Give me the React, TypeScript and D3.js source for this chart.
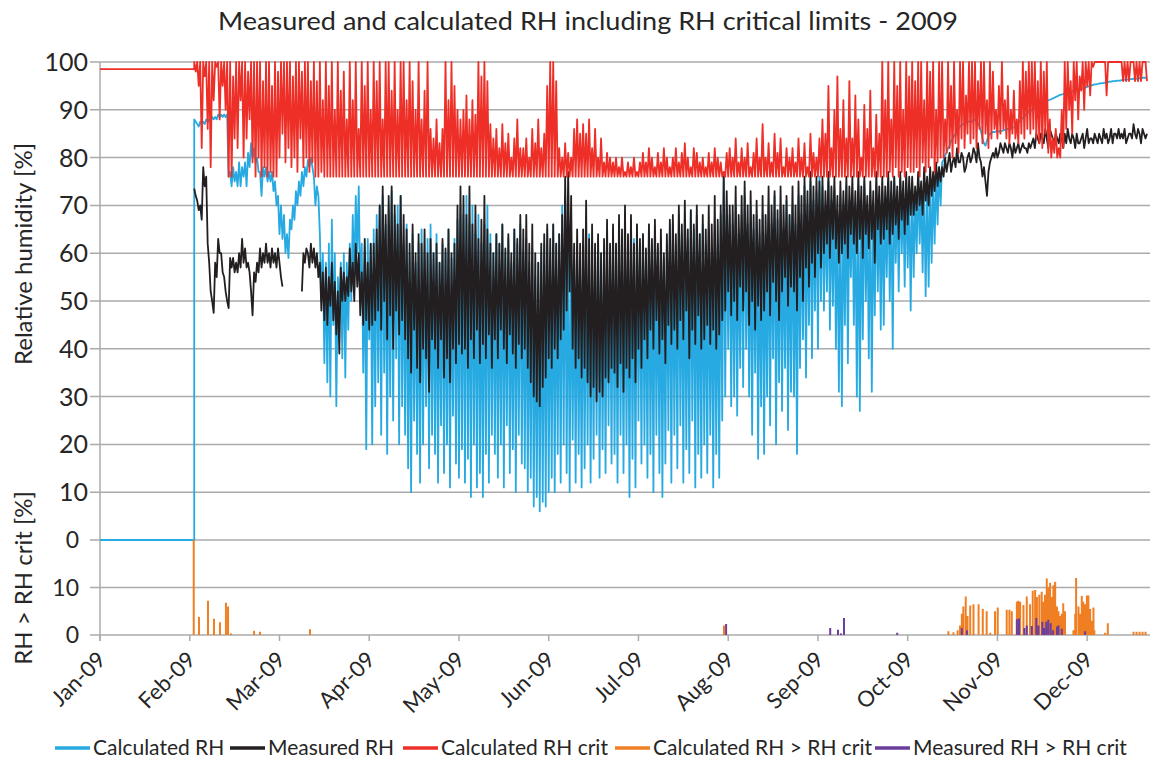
import React from 'react';
import * as d3 from 'd3';

// ---------- DATA ----------
const MONTH_LABELS = ['Jan-09','Feb-09','Mar-09','Apr-09','May-09','Jun-09','Jul-09','Aug-09','Sep-09','Oct-09','Nov-09','Dec-09'];
const DAYS_PER_TICK = 30;
const X_END_DAY = 351;
const RH_TICKS = [10,20,30,40,50,60,70,80,90,100];
const EXCESS_TICKS = [{ v: 20, label: '0' }, { v: 10, label: '10' }, { v: 0, label: '0' }];
const DATA_START_DAY = 31.5;
const CALC_RH_BEFORE = 0;
const CRIT_BEFORE = 98.5;
const CALC_EXCESS_FIRST = 20;

// two readings per day (first half / second half of day), from Feb 1
const CALC_RH: [number, number][] = [
[88,87.5],[87,86.5],[87.5,87],[87.5,87],[88,87.5],[88,87.5],[88.5,88],[88.5,88],[89,88.5],[89,88.5],
[89,88.5],[89,76],[77,74],[78,75],[77,74],[79,74],[78,76],[79,74],[81,78],[83,80],
[82,79],[80,77],[77,72],[78,76],[78,75],[77,75],[77,73],[75,70],[72,64],[70,63],
[68,60],[64,59],[67,65],[70,67],[73,70],[75,72],[77,74],[78,76],[79.5,78],[80,78],
[76,70],[74,72],[64,50],[60,37],[58,33],[62,30],[67,45],[60,28],[55,48],[58,38],
[60,34],[58,44],[62,50],[68,55],[72,60],[74,52],[62,35],[60,19],[63,42],[62,20],
[65,28],[68,33],[70,22],[72,35],[66,18],[70,30],[73,25],[68,38],[70,20],[72,28],
[62,22],[66,15],[60,10],[64,25],[58,18],[62,12],[65,20],[60,28],[63,15],[66,22],
[60,18],[64,12],[58,24],[62,14],[60,20],[65,11],[59,26],[63,16],[67,13],[70,19],
[68,12],[72,17],[66,9],[70,20],[64,11],[68,14],[62,9],[66,18],[70,12],[64,22],
[60,18],[64,13],[62,20],[66,11],[60,24],[63,14],[58,19],[65,10],[62,22],[66,16],
[60,15],[63,10],[58,13],[61,7],[55,9],[58,6],[60,8],[62,7],[65,10],[60,13],
[66,10],[62,18],[64,12],[70,20],[72,14],[68,10],[62,21],[58,12],[60,18],[55,11],
[62,15],[60,20],[64,12],[58,17],[61,22],[63,13],[60,19],[58,14],[62,24],[60,16],
[65,18],[62,12],[66,22],[60,14],[64,20],[61,9],[67,17],[63,11],[66,25],[62,16],
[64,20],[60,13],[66,18],[62,10],[65,22],[61,14],[63,9],[59,16],[62,23],[66,12],
[66,22],[62,15],[68,24],[64,12],[67,19],[63,14],[69,25],[65,11],[68,18],[64,13],
[66,20],[62,14],[65,22],[60,11],[64,18],[61,13],[68,25],[77,30],[70,40],[68,28],
[66,30],[70,26],[64,36],[68,32],[72,40],[66,30],[70,22],[65,35],[68,17],[64,28],
[68,18],[64,30],[70,24],[66,38],[72,20],[67,33],[70,27],[65,36],[71,23],[68,31],
[70,30],[66,18],[72,36],[68,42],[74,34],[70,45],[75,38],[71,48],[73,40],[76,50],
[74,48],[70,52],[75,44],[71,49],[73,40],[68,31],[72,28],[70,45],[74,37],[71,55],
[72,45],[70,30],[74,27],[71,42],[75,50],[69,38],[73,31],[70,47],[74,52],[71,44],
[73,45],[71,55],[75,50],[72,40],[76,58],[73,52],[75,60],[72,53],[76,57],[74,48],
[74,55],[72,60],[76,62],[73,56],[75,51],[74,53],[76,58],[75,62],[77,66],[78,70],
[79,79.5],[80.5,81],[82,82.5],[83.5,84],[84.5,85],[85.5,86],[86.5,86.8],[87,87.2],[87.4,87.5],[87.6,87.5],
[87.5,87.8],[88,87.6],[87.2,86.5],[85.5,84],[83,82.5],[83.5,84.5],[85,85.2],[85.4,85.3],[85.5,85.6],[85.4,85.6],
[85.6,85.7],[85.8,85.9],[86,86],[86.1,86.2],[86.3,86.5],[86.8,87.2],[87.6,88],[88.3,88.6],[89,89.3],[89.6,89.8],
[89.9,90.1],[90.3,90.5],[90.8,91],[91.2,91.4],[91.6,91.7],[91.8,92],[92.1,92.2],[92.4,92.5],[92.7,92.8],[93,93.1],
[93.2,93.3],[93.4,93.5],[93.6,93.7],[93.8,93.9],[94,94.1],[94.2,94.3],[94.4,94.5],[94.5,94.6],[94.7,94.8],[94.9,95],
[95.1,95.2],[95.3,95.3],[95.4,95.5],[95.5,95.6],[95.6,95.7],[95.8,95.8],[95.9,95.9],[96,96],[96,96.1],[96.1,96.1],
[96.2,96.2],[96.3,96.3],[96.3,96.4],[96.4,96.4],[96.5,96.5],[96.5,96.6],[96.6,96.6],[96.7,96.7],[96.7,96.8]
];

const MEAS_RH: ([number, number] | null)[] = [
[73.5,72],[71,69],[70,67],[78,74],[76,62],[58,52],[50,47.5],[58,55],[63,60],[60,56],
[55,52],[50,48.5],[59,57],[59,56],[58,56],[60,57],[63,58],[61,57],[58,56],[52,47],
[56,54],[58,56],[61,57],[60,58],[62,58],[60,57],[61,58],[60,57],[61,58],[55,53],
null,null,null,null,null,null,[52,60],[58,61],[60,57],[62,58],
[61,57],[60,55],[58,48],[56,46],[57,45],[55,49],[58,46],[54,43],[52,39],[57,50],
[56,50],[55,51],[61,52],[58,50],[62,53],[60,47],[56,45],[63,46],[58,44],[62,45],
[62,46],[65,48],[70,44],[74,50],[68,42],[72,47],[74,40],[70,48],[66,43],[72,46],
[68,42],[65,38],[62,35],[66,44],[60,36],[64,33],[62,40],[65,38],[60,31],[63,42],
[60,40],[62,36],[58,42],[63,34],[61,38],[65,33],[60,40],[62,37],[70,41],[74,39],
[72,40],[68,36],[74,42],[66,38],[70,44],[63,37],[67,41],[72,38],[65,43],[62,36],
[60,42],[64,38],[62,44],[66,40],[61,37],[64,43],[60,39],[65,36],[63,41],[68,38],
[65,40],[68,36],[62,33],[66,30],[60,29],[58,28],[62,32],[64,34],[66,38],[63,36],
[66,40],[62,38],[64,42],[68,44],[76,48],[77,52],[72,40],[62,36],[65,38],[62,34],
[65,36],[71,33],[63,30],[66,32],[62,29],[64,31],[60,30],[63,34],[67,33],[62,36],
[66,35],[62,32],[68,37],[65,31],[70,36],[64,34],[68,38],[62,33],[66,40],[63,36],
[64,42],[61,38],[66,44],[63,40],[67,46],[62,39],[65,42],[60,37],[64,45],[67,41],
[68,44],[64,40],[70,46],[66,42],[71,48],[65,38],[69,44],[66,41],[70,47],[64,40],
[68,42],[65,45],[70,41],[66,44],[72,40],[67,43],[70,46],[76,48],[73,52],[70,47],
[70,50],[74,46],[68,53],[72,48],[75,52],[70,45],[73,50],[68,44],[71,49],[67,46],
[72,48],[68,52],[74,47],[70,54],[73,50],[69,46],[74,52],[70,55],[72,49],[68,53],
[74,52],[70,48],[75,55],[72,50],[76,57],[73,53],[77,58],[74,55],[76,60],[75,57],
[76,60],[73,62],[77,59],[74,63],[76,61],[72,58],[75,60],[73,62],[76,59],[74,64],
[76,62],[73,60],[77,63],[74,59],[76,64],[72,61],[75,63],[73,58],[77,65],[74,62],
[76,63],[74,65],[77,62],[75,64],[76,66],[74,63],[77,67],[75,64],[77,66],[76,68],
[76,68],[74,69],[77,70],[75,68],[78,71],[76,70],[78,72],[77,73],[79,74],[78,75],
[78,76],[80,77],[79,81],[77,79],[80,78],[82,79],[79,81],[80,77],[78,80],[81,79],
[80,82],[81,79],[83,80],[79,76],[78,75],[72,77],[79,80],[81,80],[82,80],[81,83],
[82,81],[83,82],[81,83],[82,80],[83,81],[82,83],[81,82],[83,82],[82,81],[83,82],
[83,84],[82,85],[84,83],[85,84],[83,86],[84,82],[86,85],[84,83],[85,84],[83,85],
[84,82],[85,83],[86,84],[83,85],[84,82],[85,83],[83,84],[85,82],[84,86],[83,84],
[84,83],[85,84],[83,85],[84,83],[86,84],[85,83],[84,86],[83,85],[85,84],[86,84],
[85,84],[86,83],[84,85],[85,84],[87,85],[84,86],[85,83],[86,85],[84,85]
];

const CALC_RH_CRIT: [number, number][] = [
[100,98],[100,95],[100,82],[100,97],[100,86],[100,78],[100,92],[100,99],[100,88],[100,95],
[100,90],[100,76],[100,76],[97,84],[100,82],[100,92],[100,80],[100,84],[98,88],[100,79],
[100,76],[100,80],[100,76],[96,78],[100,76],[100,77],[95,76],[100,76],[98,80],[100,85],
[100,79],[100,82],[100,78],[97,80],[100,77],[100,84],[98,78],[100,80],[100,77],[96,79],
[100,76],[96,76],[100,77],[92,76],[100,76],[95,76],[100,76],[90,76],[100,76],[94,76],
[98,76],[88,76],[100,76],[92,76],[100,76],[86,76],[100,76],[95,76],[100,76],[90,76],
[100,76],[96,76],[100,76],[88,76],[100,76],[100,76],[94,76],[100,76],[90,76],[100,76],
[100,76],[92,76],[100,76],[96,76],[90,76],[100,76],[88,76],[94,76],[100,76],[86,76],
[84,76],[88,76],[83,76],[86,76],[100,76],[92,76],[100,76],[95,76],[90,76],[88,76],
[90,76],[93,76],[88,76],[92,76],[89,76],[100,76],[97,76],[100,76],[96,76],[87,76],
[84,76],[86,76],[82,76],[87,76],[83,76],[85,76],[80,76],[84,76],[88,76],[82,76],
[82,76],[84,76],[80,76],[86,76],[83,76],[88,76],[82,76],[85,76],[95,76],[100,76],
[100,76],[96,76],[82,76],[80,76],[83,76],[81,76],[80,76],[86,76],[88,76],[85,76],
[87,76],[85,76],[88,76],[82,76],[86,76],[80,76],[84,76],[79,76],[81,76],[80,76],
[79,76],[80,76],[78,76],[80,76],[77,76],[79,76],[78,76],[80,76],[77,76],[79,76],
[81,76],[79,76],[82,76],[80,76],[78,76],[81,76],[79,76],[82,76],[80,76],[78,76],
[80,76],[82,76],[79,76],[81,76],[83,76],[80,76],[78,76],[82,76],[81,76],[79,76],
[80,76],[78,76],[81,76],[79,76],[82,76],[80,76],[79,76],[77,76],[81,76],[82,76],
[80,76],[84,76],[79,76],[82,76],[80,76],[83,76],[78,76],[81,76],[84,76],[80,76],
[87,76],[80,76],[83,76],[79,76],[85,76],[81,76],[84,76],[78,76],[82,76],[80,76],
[82,76],[79,76],[84,76],[80,76],[83,76],[78,76],[85,76],[81,76],[80,76],[84,76],
[88,76],[85,76],[95,76],[82,76],[90,76],[97,76],[86,76],[92,76],[84,76],[96,76],
[84,76],[93,76],[88,76],[80,76],[91,76],[86,76],[94,76],[82,76],[89,76],[85,76],
[100,76],[92,76],[100,77],[88,76],[100,78],[95,76],[100,77],[90,76],[100,78],[97,77],
[100,77],[96,78],[100,76],[100,79],[92,77],[100,78],[98,80],[100,77],[90,79],[100,80],
[100,80],[88,81],[100,82],[95,80],[100,83],[90,81],[100,84],[100,82],[93,85],[100,83],
[100,84],[100,82],[96,86],[100,83],[100,85],[92,82],[100,84],[98,86],[90,84],[95,85],
[100,86],[92,84],[95,83],[90,85],[94,84],[88,83],[96,85],[100,84],[98,86],[100,85],
[100,86],[100,84],[96,83],[100,82],[98,85],[100,81],[88,80],[84,81],[86,80],[82,80],
[90,82],[100,86],[100,90],[96,85],[100,92],[100,88],[97,94],[100,90],[100,95],[100,93],
[100,99],[100,100],[100,100],[100,100],[100,100],[93,100],[100,100],[100,100],[100,100],[100,100],
[100,96],[100,96],[100,96],[100,100],[100,96],[100,96],[100,96],[100,100],[100,96]
];

// [day of year, value] spikes for the lower panel
const CALC_EXCESS: [number, number][] = [
[33.1,3.8],[36.1,7.2],[38.1,3.4],[40.1,2.7],[42.1,6.8],[42.8,6],[43.8,0.3],[51.5,0.9],[53.5,0.7],[70.2,1.2],
[208.6,2],
[283.6,0.8],[285.3,0.6],[286.7,1],[287.5,2],[288.1,4.5],[288.6,6],[289.4,8.1],[290,4],[290.9,6.2],[292,6.5],
[293.7,6.5],[295.1,5.5],[296.4,5],[297.6,0.5],[299.2,5],[300.1,5.8],[303.1,5.3],[304,5.3],[304.8,5],
[306.5,7],[307,7.2],[307.6,7],[308.7,6.3],[309.8,8.1],[310.9,6.5],[311.8,9.3],[312.6,9.5],[313.2,8],
[314,8.5],[314.8,9.1],[315.3,7],[315.9,8.5],[316.5,11.9],[317,10],[317.6,11],[318.2,8],[318.7,10.5],
[319.3,11.2],[319.9,6],[320.4,5],[321,4],[321.5,4.5],[322,6.7],[322.6,5],[325.4,1],[326,4.5],[326.3,12],
[327.1,6],[327.6,4.5],[328.2,8.2],[328.7,7],[329.3,6.5],[329.9,8.3],[330.4,8.3],[331,5.5],[331.5,3],
[332.1,5.8],[332.4,1],[336,0.5],[336.9,2.5],[345.5,0.7],[346.5,0.7],[347.5,0.7],[348.5,0.7],[349.5,0.7]
];
const MEAS_EXCESS: [number, number][] = [
[209.3,2.3],[244.1,1.5],[246.7,1.1],[247.7,0.3],[248.7,3.6],[266.5,0.5],
[288.1,1.5],[289.8,1],[306.5,3.3],[307.2,3.5],[309,1.5],[309.8,2],[311.5,1.9],[313,3.6],[313.7,2],
[315,2.8],[315.6,1.5],[316.3,2.8],[317,3.2],[317.8,2.5],[318.6,1],[319.9,1.8],[320.4,2],[321.5,1.3],[329.3,0.8]
];

const SERIES_NAMES = ['Calculated RH','Measured RH','Calculated RH crit','Calculated RH > RH crit','Measured RH > RH crit'];
const SERIES_COLORS = ['#27A9E1','#231F20','#EE2F27','#F07F24','#6C3E9C'];

// ---------- CHART ----------
type Pt = { d: number; v: number | null };

function dailyToPoints(arr: ([number, number] | null)[]): Pt[] {
  const out: Pt[] = [];
  arr.forEach((p, i) => {
    const d = DATA_START_DAY + i;
    if (p === null) {
      out.push({ d, v: null }, { d: d + 0.5, v: null });
    } else {
      out.push({ d, v: p[0] }, { d: d + 0.5, v: p[1] });
    }
  });
  return out;
}

export default function App() {
  const W = 1150, H = 761;
  const x = d3.scaleLinear().domain([0, X_END_DAY]).range([100, 1150]);
  const y = d3.scaleLinear().domain([0, 100]).range([540, 62]);
  const y2 = d3.scaleLinear().domain([0, 20]).range([635, 540]);
  const font = 'Lato, "Open Sans", sans-serif';
  const textColor = '#262626';
  const gridColor = '#ABABAB';

  const line = d3.line<Pt>().defined(p => p.v !== null).x(p => x(p.d)).y(p => y(p.v as number));

  const calcPts: Pt[] = [{ d: 0, v: CALC_RH_BEFORE }, { d: DATA_START_DAY, v: CALC_RH_BEFORE }, ...dailyToPoints(CALC_RH)];
  const measPts: Pt[] = dailyToPoints(MEAS_RH);
  const critPts: Pt[] = [{ d: 0, v: CRIT_BEFORE }, { d: DATA_START_DAY, v: CRIT_BEFORE }, ...dailyToPoints(CALC_RH_CRIT)];

  const spikes = (arr: [number, number][]) =>
    arr.map(([d, v]) => `M${x(d)},${y2(0)}L${x(d)},${y2(v)}`).join('');
  const calcExcessPath = `M${x(DATA_START_DAY) - 0.5},${y2(CALC_EXCESS_FIRST)}L${x(DATA_START_DAY) - 0.5},${y2(0)}` + spikes(CALC_EXCESS);
  const measExcessPath = spikes(MEAS_EXCESS);

  const monthTicks = MONTH_LABELS.map((m, i) => ({ label: m, d: i * DAYS_PER_TICK }));

  const legendItems = [
    { x0: 55, tx: 93 },
    { x0: 230, tx: 268 },
    { x0: 403, tx: 441 },
    { x0: 615, tx: 653 },
    { x0: 875, tx: 913 },
  ];

  return (
    <svg width={W} height={H} style={{ position: 'absolute', left: 0, top: 0, background: '#fff' }} fontFamily={font}>
      <rect width={W} height={H} fill="#fff" />
      <text x={588} y={30} textAnchor="middle" fontSize={25} fill={textColor} textLength={740} lengthAdjust="spacingAndGlyphs">
        Measured and calculated RH including RH critical limits - 2009
      </text>

      {/* grid */}
      {RH_TICKS.map(t => (
        <line key={'g' + t} x1={90} x2={1150} y1={y(t)} y2={y(t)} stroke={gridColor} strokeWidth={1.5} />
      ))}
      {EXCESS_TICKS.map(t => (
        <line key={'g2' + t.v} x1={90} x2={1150} y1={y2(t.v)} y2={y2(t.v)} stroke={gridColor} strokeWidth={1.5} />
      ))}
      <line x1={100} x2={100} y1={y(100)} y2={y2(0) + 6} stroke={gridColor} strokeWidth={1.5} />
      {monthTicks.map(t => (
        <line key={'t' + t.label} x1={x(t.d)} x2={x(t.d)} y1={y2(0)} y2={y2(0) + 6} stroke={gridColor} strokeWidth={1.5} />
      ))}

      {/* y labels */}
      {RH_TICKS.map(t => (
        <text key={'l' + t} x={88} y={y(t) + 9} textAnchor="end" fontSize={25} fill={textColor}>{t}</text>
      ))}
      {EXCESS_TICKS.map(t => (
        <text key={'l2' + t.v} x={79} y={y2(t.v) + 8} textAnchor="end" fontSize={23} fill={textColor}>{t.label}</text>
      ))}
      <text transform="translate(32,254) rotate(-90)" textAnchor="middle" fontSize={24} fill={textColor}>Relative humidity [%]</text>
      <text transform="translate(32,578) rotate(-90)" textAnchor="middle" fontSize={24} fill={textColor}>RH &gt; RH crit [%]</text>

      {/* x labels */}
      {monthTicks.map(t => (
        <text key={'x' + t.label} transform={`translate(${x(t.d) + 7},${661}) rotate(-45)`} textAnchor="end" fontSize={22} fill={textColor}>{t.label}</text>
      ))}

      {/* series */}
      <path d={line(calcPts) || ''} fill="none" stroke={SERIES_COLORS[0]} strokeWidth={1.8} strokeLinejoin="round" />
      <path d={line(measPts) || ''} fill="none" stroke={SERIES_COLORS[1]} strokeWidth={1.8} strokeLinejoin="round" />
      <path d={line(critPts) || ''} fill="none" stroke={SERIES_COLORS[2]} strokeWidth={1.8} strokeLinejoin="round" />
      <path d={calcExcessPath} fill="none" stroke={SERIES_COLORS[3]} strokeWidth={2} />
      <path d={measExcessPath} fill="none" stroke={SERIES_COLORS[4]} strokeWidth={2} />

      {/* legend */}
      {legendItems.map((it, i) => (
        <g key={'lg' + i}>
          <line x1={it.x0} x2={it.x0 + 35} y1={748} y2={748} stroke={SERIES_COLORS[i]} strokeWidth={3.5} />
          <text x={it.tx} y={755} fontSize={21} fill={textColor}>{SERIES_NAMES[i]}</text>
        </g>
      ))}
    </svg>
  );
}
